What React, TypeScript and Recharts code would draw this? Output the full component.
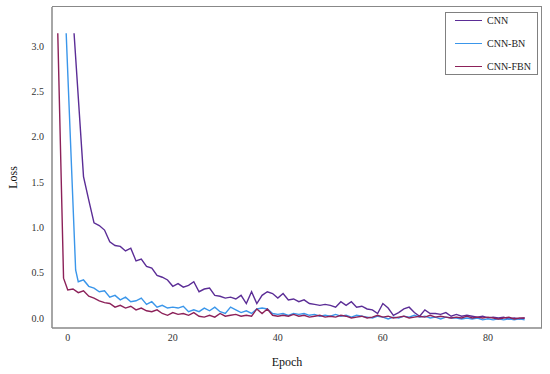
import { Legend, Line, LineChart, XAxis, YAxis } from "recharts";

// first points sit off the integer grid, the rest follow one per epoch
const cnnHeadEpochs = [1.2, 3];
const cnnFirstEpoch = 4;
const cnnLoss = [
  3.14, 1.56, 1.3, 1.05, 1.02, 0.97, 0.84, 0.8, 0.79, 0.74, 0.77, 0.63, 0.65,
  0.57, 0.55, 0.47, 0.45, 0.42, 0.35, 0.38, 0.34, 0.36, 0.4, 0.29, 0.32, 0.33,
  0.25, 0.24, 0.22, 0.23, 0.21, 0.25, 0.16, 0.29, 0.16, 0.25, 0.29, 0.27, 0.22,
  0.27, 0.2, 0.21, 0.18, 0.2, 0.16, 0.15, 0.14, 0.15, 0.14, 0.12, 0.18, 0.14,
  0.18, 0.12, 0.13, 0.1, 0.09, 0.05, 0.16, 0.11, 0.03, 0.06, 0.1, 0.12, 0.06,
  0.02, 0.09, 0.05, 0.05, 0.04, 0.06, 0.02, 0.04, 0.02, 0.03, 0.02, 0.01, 0.02,
  0.0, 0.01, 0.0, 0.01, -0.01, 0.0, -0.01, 0.0,
];

const bnHeadEpochs = [-0.3, 1.5];
const bnFirstEpoch = 2;
const bnLoss = [
  3.14, 0.53, 0.4, 0.42, 0.35, 0.33, 0.29, 0.3, 0.23, 0.25, 0.2, 0.23, 0.18,
  0.19, 0.22, 0.15, 0.18, 0.12, 0.14, 0.11, 0.12, 0.11, 0.13, 0.07, 0.09, 0.07,
  0.11, 0.08, 0.12, 0.07, 0.05, 0.12, 0.09, 0.06, 0.08, 0.05, 0.1, 0.11, 0.1,
  0.05, 0.04, 0.05, 0.03, 0.05, 0.04, 0.05, 0.03, 0.04, 0.02, 0.03, 0.02, 0.04,
  0.02, 0.03, 0.01, 0.03, 0.02, 0.01, 0.0, 0.02, 0.01, -0.01, 0.01, 0.0, 0.02,
  0.01, 0.03, 0.01, 0.02, 0.0, 0.01, -0.01, 0.01, 0.0, 0.0, -0.01, 0.0, -0.01,
  0.0, -0.02, -0.01, -0.02, -0.01, -0.02, -0.01, -0.02, -0.01, -0.02,
];

const fbnHeadEpochs = [-1.9, -0.8];
const fbnFirstEpoch = 0;
const fbnLoss = [
  3.14, 0.44, 0.31, 0.32, 0.28, 0.3, 0.24, 0.22, 0.19, 0.17, 0.16, 0.12, 0.14,
  0.11, 0.13, 0.09, 0.11, 0.08, 0.07, 0.09, 0.05, 0.03, 0.06, 0.04, 0.05, 0.03,
  0.06, 0.02, 0.01, 0.03, 0.01, 0.05, 0.02, 0.03, 0.04, 0.02, 0.03, 0.02, 0.1,
  0.05, 0.1, 0.03, 0.02, 0.03, 0.02, 0.04, 0.02, 0.03, 0.01, 0.02, 0.03, 0.01,
  0.02, 0.01, 0.03, 0.02, 0.0, 0.01, 0.02, 0.0, 0.01, 0.03, 0.01, 0.02, 0.0,
  0.01, 0.02, 0.0, 0.01, 0.02, 0.01, 0.03, 0.01, 0.02, 0.01, 0.0, 0.01, 0.0,
  0.02, 0.0, 0.01, 0.0, 0.01, 0.0, -0.01, 0.0, 0.01, -0.01, 0.0, 0.0,
];

const xTicks = [0, 20, 40, 60, 80];
const yTicks = [0, 0.5, 1, 1.5, 2, 2.5, 3];

const seriesNames = ["CNN", "CNN-BN", "CNN-FBN"];
const seriesColors = ["#5b2d96", "#3a96ea", "#8c2159"];

const FONT = "'Liberation Serif', serif";
const AXIS = "#888888";

function toPoints(head: number[], first: number, loss: number[]) {
  return loss.map((v, i) => ({
    epoch: i < head.length ? head[i] : first + (i - head.length),
    loss: v,
  }));
}

const series = [
  toPoints(cnnHeadEpochs, cnnFirstEpoch, cnnLoss),
  toPoints(bnHeadEpochs, bnFirstEpoch, bnLoss),
  toPoints(fbnHeadEpochs, fbnFirstEpoch, fbnLoss),
];

function LossLegend() {
  return (
    <div
      style={{
        width: 91,
        height: 61,
        border: "1px solid #808080",
        background: "#fff",
        display: "flex",
        flexDirection: "column",
        justifyContent: "space-between",
        fontFamily: FONT,
        fontSize: 10,
        color: "#222",
      }}
    >
      {seriesNames.map((name, i) => (
        <div
          key={name}
          style={{ display: "flex", alignItems: "center", height: 15 }}
        >
          <span
            style={{
              display: "inline-block",
              marginLeft: 9,
              width: 27,
              height: 0,
              borderTop: `1.5px solid ${seriesColors[i]}`,
            }}
          />
          <span style={{ marginLeft: 5 }}>{name}</span>
        </div>
      ))}
    </div>
  );
}

export default function App() {
  return (
    <div
      style={{
        position: "absolute",
        left: 0,
        top: 0,
        width: 550,
        height: 374,
        background: "#fff",
      }}
    >
      <LineChart
        width={550}
        height={374}
        margin={{ top: 7, right: 8, left: 0, bottom: 0 }}
      >
        <XAxis
          dataKey="epoch"
          type="number"
          domain={[-3, 90.3]}
          ticks={xTicks}
          allowDataOverflow
          height={46}
          tickLine={false}
          tickMargin={0}
          stroke={AXIS}
          strokeWidth={1.5}
          tick={{ fontSize: 10, fill: "#333", fontFamily: FONT }}
          label={{
            value: "Epoch",
            position: "insideBottom",
            offset: 8,
            dx: -10,
            style: { fontSize: 12, fill: "#111", fontFamily: FONT },
          }}
        />
        <YAxis
          dataKey="loss"
          type="number"
          domain={[-0.11, 3.43]}
          ticks={yTicks}
          allowDataOverflow
          width={52}
          tickLine={false}
          stroke={AXIS}
          strokeWidth={1.5}
          tickFormatter={(v: number) => v.toFixed(1)}
          tick={{ fontSize: 10, fill: "#333", fontFamily: FONT }}
          label={{
            value: "Loss",
            angle: -90,
            position: "insideLeft",
            offset: 13,
            dy: 10,
            style: { fontSize: 12, fill: "#111", fontFamily: FONT, textAnchor: "middle" },
          }}
        />
        {series.map((data, i) => (
          <Line
            key={seriesNames[i]}
            data={data}
            dataKey="loss"
            name={seriesNames[i]}
            type="linear"
            stroke={seriesColors[i]}
            strokeWidth={1.4}
            dot={false}
            activeDot={false}
            isAnimationActive={false}
          />
        ))}
        <Legend
          layout="vertical"
          align="center"
          verticalAlign="middle"
          content={() => <LossLegend />}
          wrapperStyle={{ left: 445, top: 12, width: 93, height: 63 }}
        />
      </LineChart>
      <div
        style={{
          position: "absolute",
          left: 52,
          top: 6,
          width: 490,
          height: 322,
          borderTop: `1.5px solid ${AXIS}`,
          borderRight: `1.5px solid ${AXIS}`,
          boxSizing: "border-box",
          pointerEvents: "none",
        }}
      />
    </div>
  );
}
